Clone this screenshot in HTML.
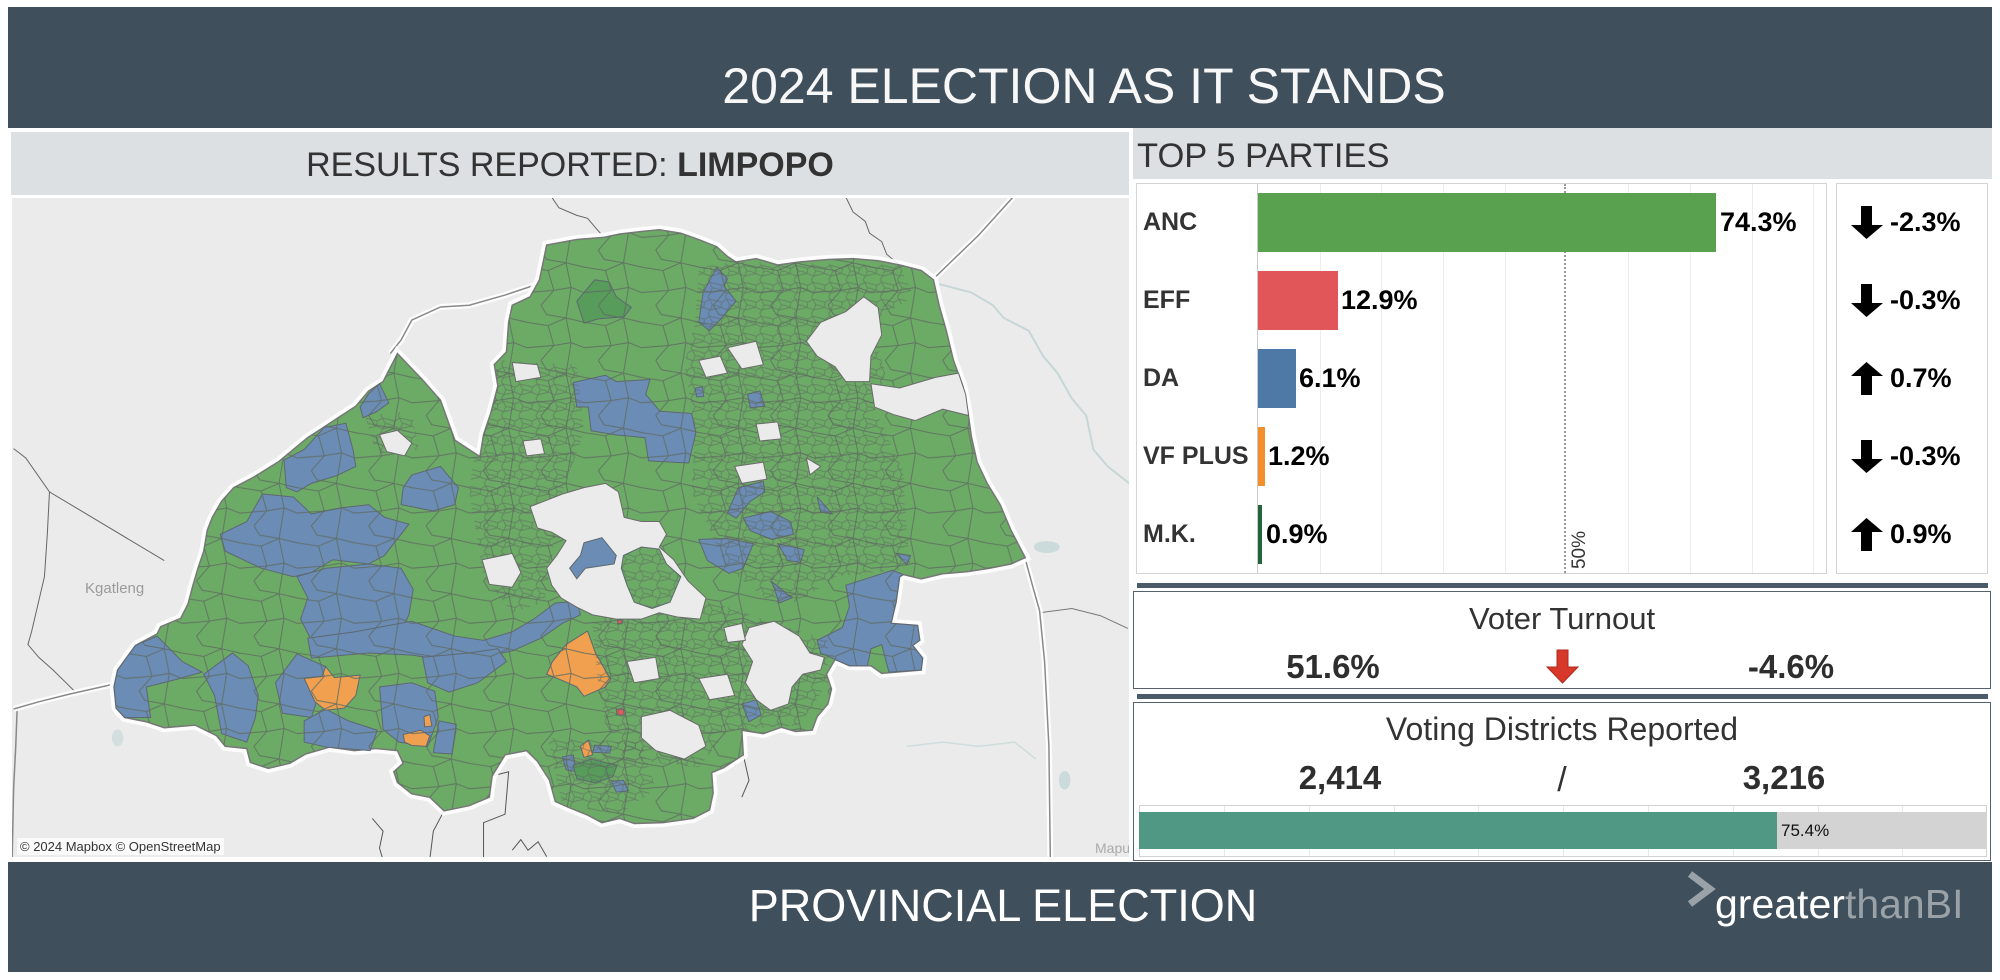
<!DOCTYPE html>
<html><head><meta charset="utf-8">
<style>
html,body{margin:0;padding:0;background:#fff;}
#root{position:relative;width:2000px;height:980px;overflow:hidden;background:#fff;font-family:"Liberation Sans",Arial,sans-serif;}
.a{position:absolute;white-space:nowrap;}
.c{text-align:center;}
.lab{font-weight:bold;font-size:25px;color:#333;line-height:40px;height:40px;}
.val{font-weight:bold;font-size:27px;color:#000;line-height:40px;height:40px;}
.chg{font-weight:bold;font-size:27px;color:#000;line-height:40px;height:40px;left:1890px;}
.bar{position:absolute;height:59px;left:1258px;}
.grid{position:absolute;top:184px;width:1px;height:389px;background:#ededed;}
.pg{position:absolute;top:806px;width:1px;height:50px;background:#e8e8e8;}
.big{font-weight:bold;font-size:33px;color:#2e2e2e;line-height:40px;height:40px;width:200px;}
svg.map *{vector-effect:non-scaling-stroke;}
</style></head><body><div id="root">

<!-- header -->
<div class="a" style="left:8px;top:7px;width:1984px;height:121px;background:#3f4f5b;"></div>
<div class="a c" style="left:584px;top:56px;width:1000px;line-height:60px;font-size:50px;color:#f7f7f7;">2024 ELECTION AS IT STANDS</div>

<!-- left title bar -->
<div class="a" style="left:11px;top:132px;width:1118px;height:63px;background:#dce0e2;"></div>
<div class="a c" style="left:11px;top:140px;width:1118px;line-height:50px;font-size:34px;color:#333;">RESULTS REPORTED: <b>LIMPOPO</b></div>

<!-- map -->
<div class="a" style="left:12px;top:198px;width:1117px;height:659px;overflow:hidden;background:#ebebeb;">
<svg class="map" style="position:absolute;left:-2px;top:-3px;" width="1125" height="665" viewBox="0 0 1568 1568" preserveAspectRatio="none">
<defs>
<pattern id="coarseT" patternUnits="userSpaceOnUse" width="80" height="130">
<path d="M0 40 L30 48 L55 30 L80 40 M20 0 L28 22 L55 30 M30 48 L38 95 L20 130 M0 100 L38 95 L62 88 L80 100 M55 30 L62 88 M62 88 L58 130 M58 0 L55 30" fill="none" stroke="#5f6b62" stroke-width="1" stroke-opacity="0.85"/>
</pattern>
<pattern id="dense" patternUnits="userSpaceOnUse" width="24" height="40">
<path d="M0 9 L8 13 L15 6 L24 9 M0 28 L7 25 L16 31 L24 28 M8 13 L7 25 M15 6 L13 0 M13 40 L16 31 M15 6 L19 19 L16 31 M19 19 L24 20 M0 20 L7 25" fill="none" stroke="#5c665e" stroke-width="1" stroke-opacity="0.55"/>
</pattern>
<clipPath id="prov"><polygon id="pp" points="540,374 575,436 600,484 620,578 655,617 660,565 670,515 680,450 675,400 692,370 695,300 700,260 725,240 738,200 748,118 790,105 828,100 850,92 880,86 905,82 935,90 960,105 985,122 1000,145 1012,158 1040,150 1070,165 1100,158 1140,152 1175,150 1210,155 1240,165 1270,178 1287,200 1295,260 1305,320 1315,390 1328,450 1335,510 1340,570 1348,630 1362,680 1380,730 1395,790 1415,855 1395,870 1365,880 1335,888 1300,893 1270,905 1245,895 1240,900 1235,960 1228,1010 1265,1015 1268,1050 1258,1062 1272,1092 1270,1120 1215,1128 1200,1110 1170,1110 1150,1095 1138,1130 1145,1165 1140,1200 1125,1230 1118,1262 1095,1265 1075,1255 1050,1270 1020,1262 1022,1320 995,1350 978,1362 980,1410 975,1450 952,1470 910,1480 870,1482 850,1470 825,1480 805,1462 780,1445 760,1430 752,1380 735,1335 720,1310 690,1320 672,1370 668,1420 640,1440 605,1452 585,1420 560,1412 540,1385 535,1360 548,1340 540,1310 510,1305 480,1310 445,1302 412,1318 390,1340 360,1352 335,1338 330,1305 300,1300 288,1275 258,1250 215,1256 190,1242 160,1232 148,1210 145,1160 150,1120 175,1062 205,1035 210,1018 238,998 248,965 255,920 262,880 270,840 275,790 282,760 295,722 312,690 340,665 375,628 395,600 415,572 437,548 462,520 482,498 500,462 520,440"/></clipPath>
</defs>

<!-- outside features -->
<g fill="none">
<path d="M1295 210 L1340 230 L1370 260 L1385 290 L1420 320 L1440 380 L1460 420 L1480 480 L1500 520 L1510 600 L1530 640 L1560 680" stroke="#c7d6d6" stroke-width="2"/>
<path d="M1250 1300 L1300 1290 L1350 1300 L1400 1290 L1430 1330" stroke="#cfdcdc" stroke-width="1.5"/>
<path d="M5 598 L22 620 L55 700 L215 862" stroke="#666" stroke-width="1"/>
<path d="M55 700 L52 800 L48 900 L30 1030 L25 1060 L40 1090 L60 1120 L90 1170" stroke="#666" stroke-width="1"/>
<path d="M10 1210 L8 1300 L5 1400 L3 1568" stroke="#888" stroke-width="1.5"/>
<path d="M755 5 L765 30 L790 48 L805 55 L815 75 L828 100" stroke="#666" stroke-width="1"/>
<path d="M1165 5 L1175 40 L1192 62 L1198 90 L1215 110 L1222 140 L1240 165" stroke="#666" stroke-width="1"/>
<path d="M1435 985 L1480 975 L1520 992 L1558 1022" stroke="#777" stroke-width="1"/>
<path d="M505 1470 L520 1500 L515 1540 L520 1568 M605 1452 L590 1500 L585 1568 M672 1370 L695 1360 L690 1460 L660 1480 L660 1568 M700 1545 L712 1520 L722 1545 L736 1525 L748 1560 M1022 1320 L1030 1380 L1020 1420" stroke="#555" stroke-width="1"/>
<g stroke="#fff" stroke-width="6" stroke-opacity="0.9">
<path d="M5 1212 L40 1195 L80 1178 L140 1155"/>
<path d="M1398 5 L1350 95 L1310 160 L1287 198"/>
<path d="M1415 858 L1425 920 L1435 980 L1442 1100 L1448 1300 L1450 1568"/>
<path d="M530 374 L545 342 L560 295 L600 264 L640 260 L690 236 L725 216 L740 210"/>
</g>
<g stroke="#8a8a8a" stroke-width="1.5">
<path d="M5 1212 L40 1195 L80 1178 L140 1155"/>
<path d="M1398 5 L1350 95 L1310 160 L1287 198"/>
<path d="M1415 858 L1425 920 L1435 980 L1442 1100 L1448 1300 L1450 1568"/>
<path d="M530 374 L545 342 L560 295 L600 264 L640 260 L690 236 L725 216 L740 210"/>
</g>
<ellipse cx="1445" cy="830" rx="18" ry="14" fill="#cbdada"/>
<ellipse cx="1470" cy="1380" rx="8" ry="22" fill="#cbdada"/>
<ellipse cx="150" cy="1280" rx="8" ry="20" fill="#d3dfdf"/>
</g>

<!-- province -->
<use href="#pp" fill="none" stroke="#fff" stroke-width="9" stroke-opacity="0.9"/>
<use href="#pp" fill="#6cab66" stroke="#777" stroke-width="1.5"/>

<!-- blues -->
<g fill="#6a8cb5" stroke="#5e6870" stroke-width="1">
<polygon points="382,625 410,600 438,548 468,538 478,600 482,640 455,662 420,680 400,700 385,690"/>
<polygon points="488,500 500,468 515,445 528,490 510,512 492,525"/>
<polygon points="548,690 560,660 600,640 625,690 620,730 590,745 545,730"/>
<polygon points="293,800 330,770 352,705 395,712 420,752 460,738 500,730 522,760 556,776 522,850 500,870 450,860 420,890 395,900 350,880 300,840"/>
<polygon points="405,1000 415,950 400,900 440,880 500,870 545,880 562,930 556,990 545,1030 500,1045 460,1052 420,1050"/>
<polygon points="415,1045 480,1030 560,1005 620,1040 660,1050 700,1030 730,1000 760,962 790,958 795,990 770,1010 740,1045 700,1075 660,1090 620,1100 560,1085 500,1080 420,1092"/>
<polygon points="175,1062 205,1040 240,1100 268,1125 232,1142 190,1160 196,1232 160,1232 148,1210 145,1160 150,1120"/>
<polygon points="270,1130 310,1080 332,1110 346,1180 342,1232 330,1290 295,1270 285,1180"/>
<polygon points="370,1150 400,1082 440,1112 432,1170 420,1232 380,1222"/>
<polygon points="410,1240 440,1212 472,1240 512,1262 502,1310 442,1302 410,1290"/>
<polygon points="515,1160 560,1150 592,1170 597,1232 582,1300 542,1290 520,1260"/>
<polygon points="575,1090 640,1080 680,1070 692,1100 652,1150 612,1172 582,1150"/>
<polygon points="598,1240 622,1248 616,1318 590,1315"/>
<polygon points="985,170 1000,198 995,215 1012,250 992,290 975,320 960,300 966,230"/>
<polygon points="785,442 830,425 845,440 892,435 886,470 906,510 950,515 956,560 946,632 890,627 885,572 845,566 810,556 806,500 790,500"/>
<polygon points="1028,470 1045,462 1052,498 1032,502"/>
<polygon points="1015,690 1050,675 1052,700 1032,722 1012,762 1000,750"/>
<polygon points="1022,762 1060,746 1088,770 1092,800 1062,812 1032,792"/>
<polygon points="960,812 1000,810 1036,822 1022,880 1002,892 972,862"/>
<polygon points="1070,822 1107,836 1102,866 1084,862"/>
<polygon points="1125,712 1146,752 1130,748"/>
<polygon points="1062,912 1090,950 1072,962"/>
<polygon points="1020,1200 1040,1190 1047,1226 1030,1242"/>
<polygon points="770,1325 785,1320 790,1360 775,1355"/>
<polygon points="838,1382 855,1380 862,1405 845,1408"/>
<polygon points="815,1297 838,1300 836,1316 812,1314"/>
<polygon points="955,456 965,452 967,475 957,476"/>
<polygon points="1165,920 1230,885 1245,895 1240,900 1235,960 1228,1010 1265,1015 1268,1050 1258,1062 1272,1092 1270,1120 1225,1125 1215,1060 1200,1070 1195,1110 1170,1110 1150,1095 1130,1080 1125,1050 1160,1020 1170,970"/>
<polygon points="1235,845 1255,850 1250,872"/>
</g>
<!-- oranges / dark greens / reds -->
<g stroke="#5e6870" stroke-width="1">
<polygon fill="#f0a04e" points="410,1140 435,1135 440,1112 452,1138 488,1132 482,1180 466,1210 440,1215 425,1195"/>
<polygon fill="#f0a04e" points="775,1060 805,1028 816,1080 837,1142 830,1160 800,1182 790,1160 766,1142 748,1130 756,1100"/>
<polygon fill="#f0a04e" points="548,1272 572,1262 585,1275 580,1300 560,1298 550,1290"/>
<polygon fill="#f0a04e" points="577,1230 585,1225 588,1252 578,1254"/>
<polygon fill="#f0a04e" points="795,1300 806,1285 812,1320 800,1326"/>
<polygon fill="#579c5b" points="790,250 815,200 835,205 845,240 866,265 856,287 820,292 800,302"/>
<polygon fill="#579c5b" points="785,1345 810,1330 846,1345 840,1372 815,1386 790,1376"/>
<polygon fill="#e05a5c" points="845,1212 855,1212 856,1226 846,1226"/>
<polygon fill="#e05a5c" points="847,1002 853,1002 853,1011 847,1011"/>
</g>

<!-- district lines -->
<use href="#pp" fill="url(#coarseT)" stroke="none"/>
<g clip-path="url(#prov)" fill="url(#dense)" stroke="none">
<polygon points="960,170 1012,158 1240,165 1260,240 1200,300 1220,420 1205,500 1220,560 1245,650 1250,800 1255,880 1150,900 1100,960 1060,960 1000,880 950,700 955,560 940,400 955,300"/>
<polygon points="680,390 790,400 800,560 770,700 745,960 700,985 660,900 640,700 650,580 670,480"/>
<polygon points="810,990 980,960 1050,1000 1140,1050 1140,1150 1100,1250 1000,1262 960,1350 860,1330 830,1250 820,1150"/>
<polygon points="750,1280 880,1290 900,1400 850,1460 770,1440"/>
<polygon points="495,520 560,510 570,600 510,610"/>
</g>

<!-- holes -->
<g fill="#ebebeb" stroke="#6a6a6a" stroke-width="1">
<polygon points="1130,300 1165,275 1190,240 1210,265 1215,330 1200,380 1198,440 1165,440 1150,405 1125,380 1110,345"/>
<polygon points="1200,445 1240,455 1290,430 1322,420 1332,470 1336,520 1300,505 1262,532 1232,518 1205,500"/>
<polygon points="658,860 700,845 712,890 700,925 668,918"/>
<polygon points="725,735 770,705 800,690 830,680 848,700 856,760 880,770 905,770 915,800 905,830 925,860 945,910 970,950 962,1000 930,995 905,985 880,1000 845,1000 812,990 790,972 768,950 755,920 748,880 762,850 775,815 755,795 735,785"/>
<polygon points="1030,1020 1065,1005 1100,1040 1115,1080 1135,1090 1130,1120 1105,1130 1090,1160 1085,1200 1060,1215 1040,1190 1025,1150 1035,1100 1020,1060"/>
<polygon points="880,1230 920,1215 960,1250 970,1300 940,1330 900,1310 880,1280"/>
<polygon points="960,1140 1000,1130 1010,1180 975,1190"/>
<polygon points="860,1100 900,1090 905,1140 870,1150"/>
<polygon points="995,1020 1020,1010 1025,1050 1000,1055"/>
<polygon points="960,390 990,380 1000,420 970,430"/>
<polygon points="1000,360 1040,345 1050,400 1020,410"/>
<polygon points="715,580 740,575 745,610 720,615"/>
<polygon points="1010,640 1050,630 1055,670 1020,680"/>
<polygon points="1110,620 1130,640 1115,660"/>
<polygon points="1040,540 1070,535 1075,575 1045,580"/>
<polygon points="515,565 540,555 560,585 550,615 525,605"/>
<polygon points="700,395 735,400 740,430 705,440"/>
</g>
<!-- green patch & blue inside central hole -->
<g stroke="#5e6870" stroke-width="1">
<polygon fill="#6cab66" points="855,850 880,830 905,835 915,870 935,900 920,960 895,975 870,960 860,920 852,880"/>
<polygon fill="url(#dense)" stroke="none" points="855,850 880,830 905,835 915,870 935,900 920,960 895,975 870,960 860,920 852,880"/>
<polygon fill="#6a8cb5" points="800,820 825,808 845,850 842,870 802,880 790,905 780,880 795,850"/>
</g>
</svg>
<div class="a" style="left:73px;top:381px;font-size:15px;color:#9b9b9b;line-height:20px;">Kgatleng</div>
<div class="a" style="left:5px;top:640px;padding:0 3px;font-size:13px;color:#333;line-height:17px;background:rgba(255,255,255,0.75);">© 2024 Mapbox © OpenStreetMap</div>
<div class="a" style="left:1083px;top:641px;font-size:14px;color:#aaa;line-height:18px;">Mapu</div>
</div>

<!-- right: top 5 parties -->
<div class="a" style="left:1133px;top:128px;width:859px;height:51px;background:#dce0e2;"></div>
<div class="a" style="left:1137px;top:131px;font-size:34.5px;color:#333;line-height:50px;">TOP 5 PARTIES</div>

<div class="a" style="left:1136px;top:183px;width:691px;height:391px;box-sizing:border-box;border:1.5px solid #d4d4d4;"></div>
<div class="a" style="left:1836px;top:183px;width:152px;height:391px;box-sizing:border-box;border:1.5px solid #d4d4d4;"></div>

<div class="grid" style="left:1320px;"></div>
<div class="grid" style="left:1381px;"></div>
<div class="grid" style="left:1443px;"></div>
<div class="grid" style="left:1505px;"></div>
<div class="grid" style="left:1628px;"></div>
<div class="grid" style="left:1690px;"></div>
<div class="grid" style="left:1752px;"></div>
<div class="grid" style="left:1813px;"></div>
<div class="a" style="left:1257px;top:184px;width:1px;height:389px;background:#c9c9c9;"></div>
<div class="a" style="left:1564px;top:184px;width:0;height:389px;border-left:2px dotted #999;"></div>

<div class="bar" style="top:193px;width:458px;background:#59a14f;"></div>
<div class="bar" style="top:271px;width:80px;background:#e15759;"></div>
<div class="bar" style="top:349px;width:38px;background:#4e79a7;"></div>
<div class="bar" style="top:427px;width:7px;background:#f28e2b;"></div>
<div class="bar" style="top:505px;width:4px;background:#24643a;"></div>

<div class="a lab" style="left:1143px;top:202px;">ANC</div>
<div class="a lab" style="left:1143px;top:280px;">EFF</div>
<div class="a lab" style="left:1143px;top:358px;">DA</div>
<div class="a lab" style="left:1143px;top:436px;">VF PLUS</div>
<div class="a lab" style="left:1143px;top:514px;">M.K.</div>

<div class="a val" style="left:1720px;top:202px;">74.3%</div>
<div class="a val" style="left:1341px;top:280px;">12.9%</div>
<div class="a val" style="left:1299px;top:358px;">6.1%</div>
<div class="a val" style="left:1268px;top:436px;">1.2%</div>
<div class="a val" style="left:1266px;top:514px;">0.9%</div>

<div class="a c" style="left:1560px;top:540px;width:40px;height:20px;line-height:20px;font-size:19px;color:#333;transform:rotate(-90deg);">50%</div>

<!-- change arrows -->
<svg class="a" style="left:1850px;top:206px;" width="34" height="33" viewBox="0 0 34 33"><polygon points="11,0 22,0 22,19 33,19 16.5,33 1,19 11,19" fill="#000"/></svg>
<svg class="a" style="left:1850px;top:284px;" width="34" height="33" viewBox="0 0 34 33"><polygon points="11,0 22,0 22,19 33,19 16.5,33 1,19 11,19" fill="#000"/></svg>
<svg class="a" style="left:1850px;top:362px;" width="34" height="33" viewBox="0 0 34 33"><polygon points="11,33 22,33 22,14 33,14 16.5,0 1,14 11,14" fill="#000"/></svg>
<svg class="a" style="left:1850px;top:440px;" width="34" height="33" viewBox="0 0 34 33"><polygon points="11,0 22,0 22,19 33,19 16.5,33 1,19 11,19" fill="#000"/></svg>
<svg class="a" style="left:1850px;top:518px;" width="34" height="33" viewBox="0 0 34 33"><polygon points="11,33 22,33 22,14 33,14 16.5,0 1,14 11,14" fill="#000"/></svg>
<div class="a chg" style="top:202px;">-2.3%</div>
<div class="a chg" style="top:280px;">-0.3%</div>
<div class="a chg" style="top:358px;">0.7%</div>
<div class="a chg" style="top:436px;">-0.3%</div>
<div class="a chg" style="top:514px;">0.9%</div>

<!-- voter turnout -->
<div class="a" style="left:1137px;top:583px;width:851px;height:5px;background:#4b5b67;"></div>
<div class="a" style="left:1133px;top:591px;width:858px;height:98px;box-sizing:border-box;border:1.5px solid #53626c;"></div>
<div class="a c" style="left:1362px;top:599px;width:400px;font-size:31px;color:#333;line-height:40px;">Voter Turnout</div>
<div class="a c big" style="left:1233px;top:647px;">51.6%</div>
<svg class="a" style="left:1546px;top:649px;" width="34" height="35" viewBox="0 0 34 35"><polygon points="11,1 22,1 22,18 32,18 16.5,34 1,18 11,18" fill="#d7382a" stroke="#b02a1e" stroke-width="1"/></svg>
<div class="a c big" style="left:1691px;top:647px;">-4.6%</div>

<!-- voting districts -->
<div class="a" style="left:1137px;top:694px;width:851px;height:5px;background:#4b5b67;"></div>
<div class="a" style="left:1133px;top:702px;width:858px;height:159px;box-sizing:border-box;border:1.5px solid #53626c;"></div>
<div class="a c" style="left:1262px;top:709px;width:600px;font-size:32px;color:#333;line-height:40px;">Voting Districts Reported</div>
<div class="a c big" style="left:1240px;top:758px;">2,414</div>
<div class="a c" style="left:1512px;top:760px;width:100px;font-size:34px;color:#333;line-height:40px;">/</div>
<div class="a c big" style="left:1684px;top:758px;">3,216</div>

<div class="a" style="left:1139px;top:805px;width:848px;height:52px;box-sizing:border-box;border:1px solid #d2d2d2;"></div>
<div class="pg" style="left:1224px;"></div>
<div class="pg" style="left:1309px;"></div>
<div class="pg" style="left:1394px;"></div>
<div class="pg" style="left:1478px;"></div>
<div class="pg" style="left:1563px;"></div>
<div class="pg" style="left:1648px;"></div>
<div class="pg" style="left:1733px;"></div>
<div class="pg" style="left:1818px;"></div>
<div class="pg" style="left:1902px;"></div>
<div class="a" style="left:1139px;top:812px;width:848px;height:37px;background:#d3d3d3;"></div>
<div class="a" style="left:1139px;top:812px;width:638px;height:37px;background:#519884;"></div>
<div class="a" style="left:1781px;top:821px;font-size:17px;color:#111;line-height:20px;">75.4%</div>

<!-- bottom bar -->
<div class="a" style="left:8px;top:862px;width:1984px;height:110px;background:#3f4f5b;"></div>
<div class="a c" style="left:503px;top:881px;width:1000px;font-size:45px;color:#fff;line-height:50px;">PROVINCIAL ELECTION</div>
<svg class="a" style="left:1684px;top:871px;" width="34" height="38" viewBox="0 0 34 38"><polyline points="6,3 26,18 6,33" fill="none" stroke="#9aa2a8" stroke-width="7"/></svg>
<div class="a" style="left:1715px;top:879px;font-size:41px;line-height:50px;color:#fff;">greater<span style="color:#9aa2a8;">thanBI</span></div>

</div></body></html>
